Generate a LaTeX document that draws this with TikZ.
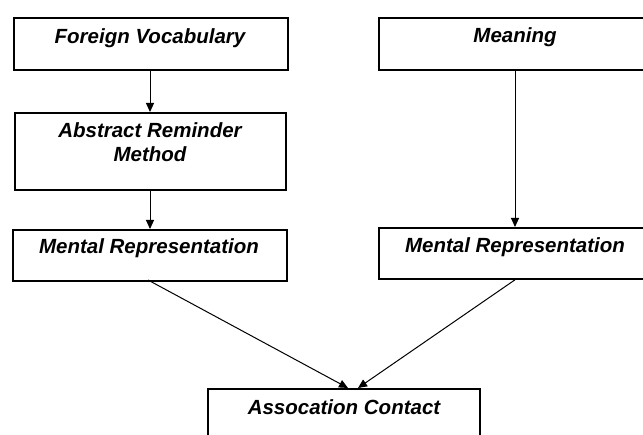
\documentclass[tikz,border=0pt]{standalone}
\usepackage{fontspec}
\setmainfont{Liberation Sans}
\usetikzlibrary{arrows.meta}
\begin{document}
\begin{tikzpicture}[x=1pt,y=-1pt,
  box/.style={draw=black,line width=1.8pt,rectangle,anchor=north west,inner sep=0pt},
  lbl/.style={anchor=base,inner sep=0pt,font=\fontsize{20.5}{24}\selectfont\bfseries\itshape},
  arr/.style={draw=black,line width=1pt,-{Triangle[length=9pt,width=8pt]}}]
\useasboundingbox (0,0) rectangle (643,435);
\clip (0,0) rectangle (643,435);
\fill[white] (0,0) rectangle (643,435);
% boxes
\node[box,minimum width=274pt,minimum height=52pt] (B1) at (13,17) {};
\node[box,minimum width=271pt,minimum height=77pt] (B2) at (14,112) {};
\node[box,minimum width=274pt,minimum height=51pt] (B4) at (12,229) {};
\node[box,minimum width=285pt,minimum height=52pt] (B3) at (378,17) {};
\node[box,minimum width=285pt,minimum height=51pt] (B5) at (378,227) {};
\node[box,minimum width=272pt,minimum height=80pt] (B6) at (207,388) {};
% texts
\node[lbl] (T1) at (150,44) {Foreign Vocabulary};
\node[lbl] (T2a) at (150,138) {Abstract Reminder};
\node[lbl] (T2b) at (150,162) {Method};
\node[lbl] (T4) at (149,254) {Mental Representation};
\node[lbl] (T3) at (515,43) {Meaning};
\node[lbl] (T5) at (515,253) {Mental Representation};
\node[lbl] (T6) at (344,415) {Assocation Contact};
% connectors
\coordinate (tipL) at (348,388);
\coordinate (tipR) at (358,388);
\draw[arr] (T1 |- B1.south) -- (T1 |- B2.north);
\draw[arr] (T1 |- B2.south) -- (T1 |- B4.north);
\draw[arr] (T3 |- B3.south) -- (T3 |- B5.north);
\draw[arr] (148,280) -- (tipL);
\draw[arr] (T5 |- B5.south) -- (tipR);
\end{tikzpicture}
\end{document}
